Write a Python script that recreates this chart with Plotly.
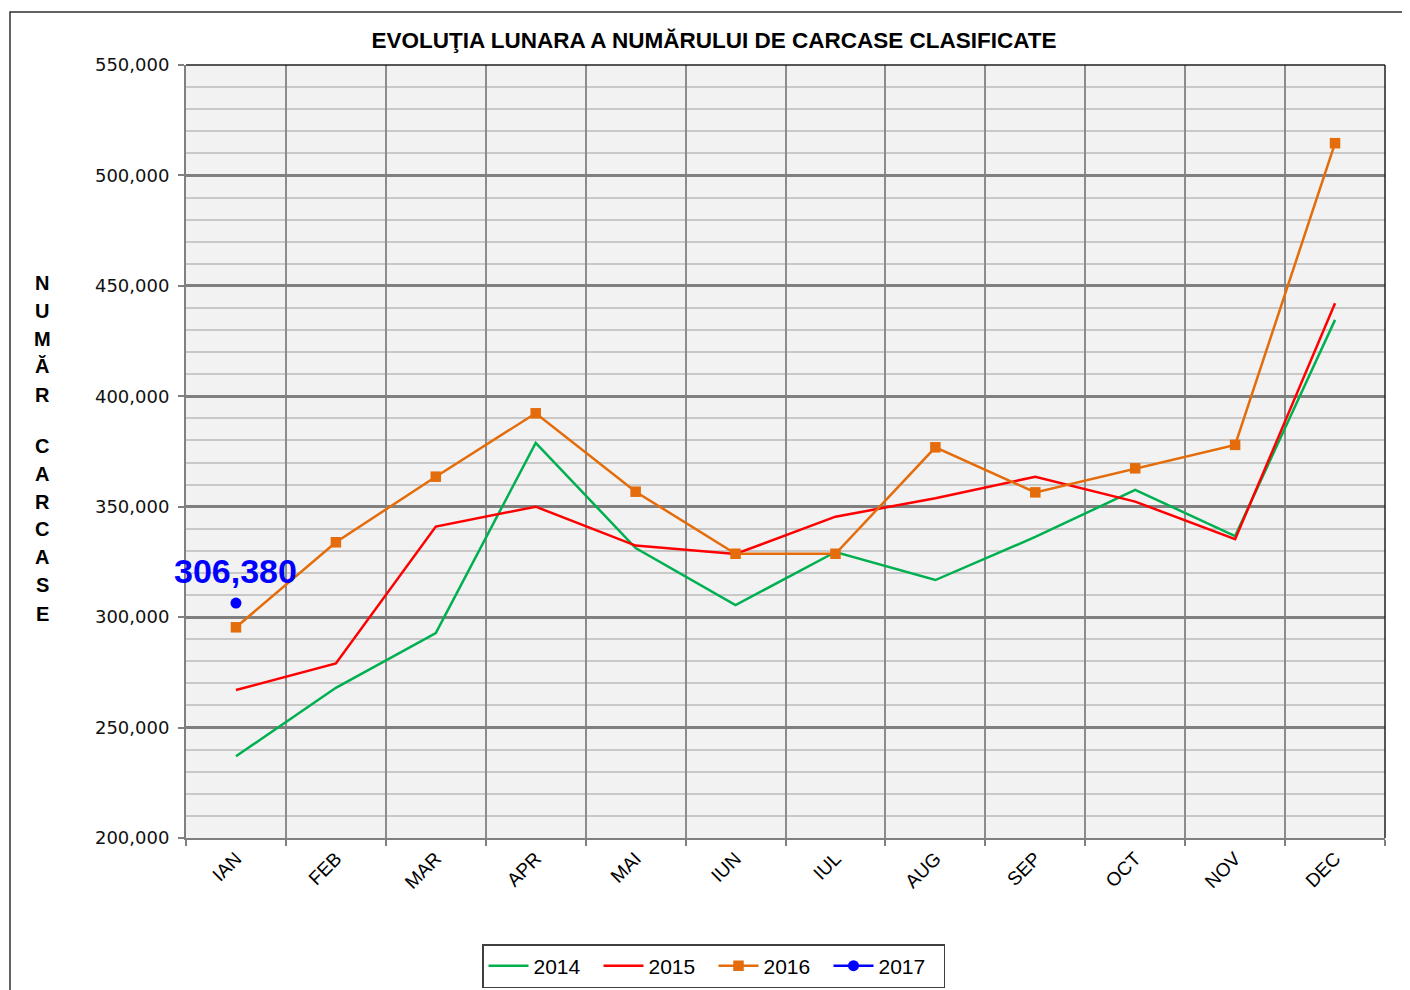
import plotly.graph_objects as go

months = ["IAN", "FEB", "MAR", "APR", "MAI", "IUN", "IUL", "AUG", "SEP", "OCT", "NOV", "DEC"]
v2014 = [237000, 268000, 292800, 378900, 331300, 305500, 329500, 316800, 336300, 357600, 336700, 434600]
v2015 = [267000, 279000, 341000, 350000, 332400, 328600, 345500, 353800, 363600, 352300, 335300, 442100]
v2016 = [295400, 333900, 363600, 392300, 356800, 328700, 328700, 376900, 356500, 367400, 378000, 514600]
m2017 = ["IAN"]
v2017 = [306380]

title = "EVOLUŢIA LUNARA A NUMĂRULUI DE CARCASE CLASIFICATE"
ylabel_letters = ["N", "U", "M", "Ă", "R", "C", "A", "R", "C", "A", "S", "E"]
ylabel_px = [283, 311, 339, 366, 395, 446, 474, 502, 529, 557, 585, 614]

OFF = 8  # page body margin
W, H = 1410 - OFF, 990 - OFF
L, R, T, B = 186 - OFF, 25, 65 - OFF, 152
PH = H - T - B
PW = W - L - R
PB = H - B  # plot bottom in figure px


def px_x(p):
    return (p - OFF - L) / PW


def px_y(p):
    return (PB - (p - OFF)) / PH


fig = go.Figure()
fig.add_trace(go.Scatter(x=months, y=v2014, name="2014", mode="lines",
                         line=dict(color="#00b050", width=2.5)))
fig.add_trace(go.Scatter(x=months, y=v2015, name="2015", mode="lines",
                         line=dict(color="#ff0000", width=2.5)))
fig.add_trace(go.Scatter(x=months, y=v2016, name="2016", mode="lines+markers",
                         line=dict(color="#e46c0a", width=2.5),
                         marker=dict(symbol="square", size=10.5, color="#e46c0a")))
fig.add_trace(go.Scatter(x=m2017, y=v2017, name="2017", mode="lines+markers",
                         line=dict(color="#0000ff", width=2.5),
                         marker=dict(symbol="circle", size=11, color="#0000ff")))

annotations = []
annotations.append(dict(x=m2017[0], y=v2017[0], xref="x", yref="y",
                        text=f"{v2017[0]:,}", showarrow=False, yshift=32,
                        font=dict(family="Liberation Sans", size=34, color="#0000ff",
                                  weight="bold")))
for letter, py in zip(ylabel_letters, ylabel_px):
    annotations.append(dict(x=px_x(42), y=px_y(py), xref="paper", yref="paper",
                            text=letter, showarrow=False, xanchor="center", yanchor="middle",
                            font=dict(family="Liberation Sans", size=20, color="black",
                                      weight="bold")))

shapes = [
    dict(type="line", xref="x domain", yref="y domain", x0=0, x1=1, y0=1, y1=1,
         line=dict(color="#202020", width=1.5)),
    dict(type="line", xref="x domain", yref="y domain", x0=1, x1=1, y0=0, y1=1,
         line=dict(color="#202020", width=1.5)),
    dict(type="rect", xref="paper", yref="paper",
         x0=px_x(10), x1=px_x(1420), y0=px_y(1000), y1=px_y(12),
         line=dict(color="#303030", width=1.5), layer="below"),
]

fig.update_layout(
    width=W, height=H,
    autosize=False,
    margin=dict(l=L, r=R, t=T, b=B, autoexpand=False),
    paper_bgcolor="white",
    plot_bgcolor="#f2f2f2",
    title=dict(text=title, x=(714 - OFF) / W, xref="container", xanchor="center",
               y=1 - (40 - OFF) / H, yref="container", yanchor="middle",
               font=dict(family="Liberation Sans", size=22.5, color="black", weight="bold")),
    showlegend=True,
    legend=dict(orientation="h",
                xref="container", x=(713.5 - OFF) / W, xanchor="center",
                yref="container", y=1 - (966 - OFF) / H, yanchor="middle",
                bgcolor="white", bordercolor="#404040", borderwidth=1.5,
                font=dict(family="Liberation Sans", size=21, color="black"),
                entrywidth=60, entrywidthmode="pixels",
                itemwidth=40, tracegroupgap=0),
    annotations=annotations,
    shapes=shapes,
    xaxis=dict(
        type="category", categoryorder="array", categoryarray=months,
        range=[-0.5, 11.5], tickson="boundaries",
        showgrid=True, gridcolor="#8c8c8c", gridwidth=1.5,
        showline=True, linecolor="#808080", linewidth=2,
        ticks="outside", ticklen=6, tickcolor="#808080", tickwidth=1.5,
        tickangle=-45,
        tickfont=dict(family="Liberation Sans", size=19, color="black"),
        zeroline=False, automargin=False,
    ),
    yaxis=dict(
        range=[200000, 550000], dtick=50000, tick0=0,
        tickformat=",d",
        showgrid=True, gridcolor="#808080", gridwidth=2.5,
        minor=dict(dtick=10000, tick0=0, showgrid=True, gridcolor="#c8c8c8", gridwidth=1.5),
        showline=True, linecolor="#808080", linewidth=2,
        ticks="outside", ticklen=6, tickcolor="#808080", tickwidth=1.5,
        ticklabelstandoff=5,
        tickfont=dict(family="DejaVu Sans", size=18, color="#111111"),
        zeroline=False, automargin=False,
    ),
)

fig.write_html("out.html")
